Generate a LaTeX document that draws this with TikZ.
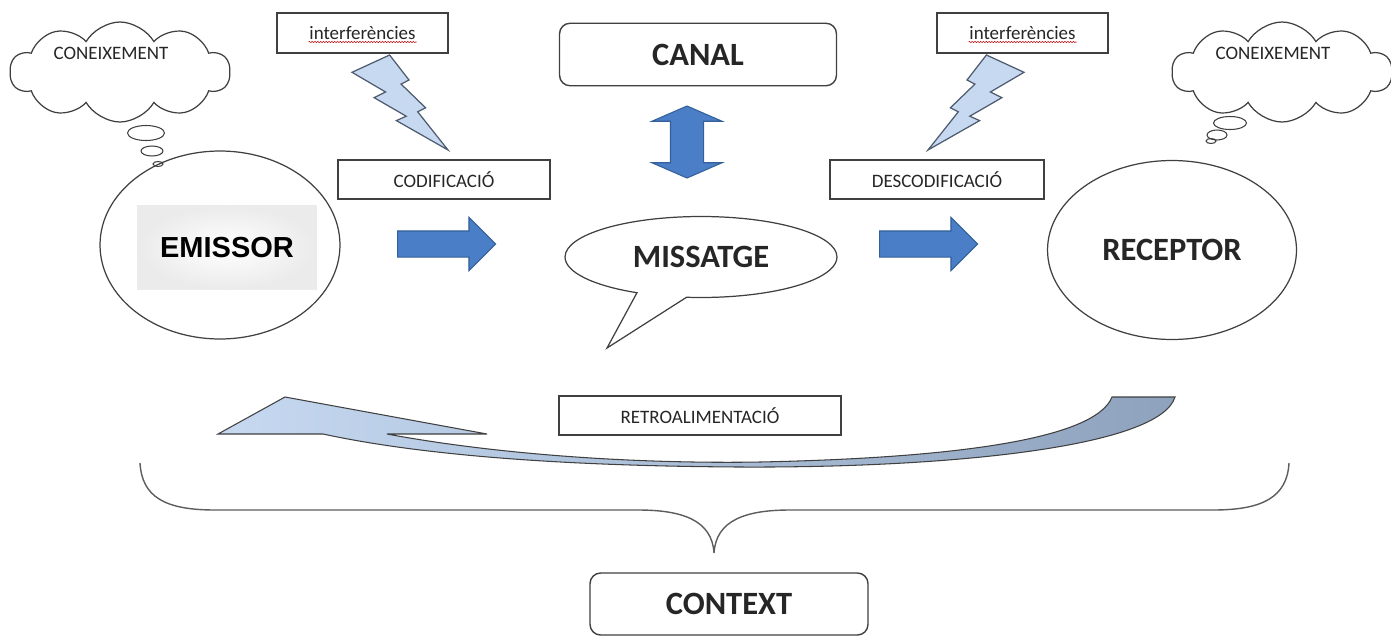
\documentclass[tikz,border=0pt]{standalone}
\usepackage{fontspec}
\setmainfont{Carlito}
\newfontfamily\arialfont{Liberation Sans}
\usetikzlibrary{arrows.meta,calc,positioning,shapes.geometric,shapes.symbols,shapes.arrows,shapes.callouts,decorations.pathmorphing}
\definecolor{ln}{HTML}{404040}
\definecolor{txt}{HTML}{262626}
\definecolor{b}{HTML}{4A7EC6}
\definecolor{B}{HTML}{34609A}
\definecolor{lb}{HTML}{C6D9F1}
\definecolor{gb}{HTML}{8EA2BD}
\definecolor{boltc}{HTML}{4E5B6E}
\newcommand{\boltpath}{(389.6,55) -- (352,72.3) -- (385.6,92) -- (374.2,97.7) -- (406.2,116.2) -- (396.4,120.6) -- (448,150) -- (417.7,111.8) -- (425.6,107.8) -- (401.1,84.1) -- (409,80) -- cycle}

\begin{document}
\begin{tikzpicture}[x=0.02cm,y=-0.02cm,
  box/.style={draw=ln,line width=0.8pt,fill=white,text=txt,inner sep=0pt,
    font=\fontsize{10.8}{13}\selectfont,minimum height=0.78cm},
  bigbox/.style={box,rounded corners=6pt,font=\fontsize{18.5}{22}\selectfont\bfseries,
    minimum height=1.25cm},
  oval/.style={ellipse,draw=ln,line width=0.7pt,inner sep=0pt,text=txt,
    font=\fontsize{18.5}{22}\selectfont\bfseries},
  thought/.style={cloud,cloud puffs=10,cloud puff arc=120,aspect=2.2,draw=ln,
    line width=0.7pt,minimum width=4.4cm,minimum height=2cm,inner sep=0pt},
  bubble/.style={ellipse,draw=ln,line width=0.6pt,inner sep=0pt},
  note/.style={text=txt,font=\fontsize{10.8}{13}\selectfont},
  fwd/.style={single arrow,single arrow head extend=0.27cm,single arrow tip angle=90,
    inner xsep=0pt,inner ysep=0.25cm,minimum height=1.96cm,fill=b,draw=B,line width=0.6pt},
  dbl/.style={double arrow,double arrow head extend=0.37cm,double arrow tip angle=133,
    inner xsep=0pt,inner ysep=0.32cm,minimum height=1.44cm,fill=b,draw=B,line width=0.6pt},
  boltstyle/.style={fill=lb,draw=boltc,line width=0.7pt},
  wave/.style={red!75!black,line width=0.3pt,decorate,
    decoration={snake,amplitude=0.35pt,segment length=1.6pt}}]
  \path[fill=white,use as bounding box] (0,0) rectangle (1391,636);

  % knowledge clouds
  \node[thought] (cloudL) at (120,72) {};
  \node[note] (knowL) at ($(cloudL.center)+(-9,-19)$) {CONEIXEMENT};
  \node[bubble,minimum width=0.74cm,minimum height=0.3cm] (bL1) at (146,133) {};
  \node[bubble,minimum width=0.44cm,minimum height=0.2cm] (bL2) at (152,151) {};
  \node[bubble,minimum width=0.2cm,minimum height=0.1cm] (bL3) at (158,164) {};
  \node[thought] (cloudR) at (1282,72) {};
  \node[note] (knowR) at ($(cloudR.center)+(-9,-19)$) {CONEIXEMENT};
  \node[bubble,minimum width=0.66cm,minimum height=0.26cm] (bR1) at (1230,123) {};
  \node[bubble,minimum width=0.4cm,minimum height=0.2cm] (bR2) at (1217,135) {};
  \node[bubble,minimum width=0.2cm,minimum height=0.1cm] (bR3) at (1211,141) {};

  % noise
  \node[box,minimum width=3.42cm,minimum height=0.8cm] (intL) at (362.5,33) {interferències};
  \node[box,minimum width=3.42cm,minimum height=0.8cm] (intR) at (1022.5,33) {interferències};
  \draw[wave] ($(intL.center)+(-54,9)$) -- ($(intL.center)+(54,9)$);
  \draw[wave] ($(intR.center)+(-54,9)$) -- ($(intR.center)+(54,9)$);
  \draw[boltstyle] \boltpath;
  \begin{scope}[shift={(1376,0)},xscale=-1]
    \draw[boltstyle] \boltpath;
  \end{scope}

  % sender, message, receiver
  \node[oval,minimum width=4.8cm,minimum height=3.76cm] (emissor) at (220,245) {};
  \node[inner color=white,outer color=black!8,minimum width=3.6cm,minimum height=1.7cm,
    font=\arialfont\fontsize{16.5}{20}\selectfont\bfseries] (emissorTxt) at (227,247.5) {EMISSOR};
  \node[box,minimum width=4.24cm] (codif) at (444,179.5) {CODIFICACIÓ};
  \node[fwd] (codArrow) at (440,244) {};
  \node[bigbox,minimum width=5.54cm] (canal) at (698,54.5) {CANAL};
  \node[dbl,rotate=90] (canalArrow) at (687,142) {};
  \node[oval,ellipse callout,callout absolute pointer={(607,348)},callout pointer arc=22,
    minimum width=5.44cm,minimum height=1.62cm] (msg) at (701,257) {MISSATGE};
  \node[box,minimum width=4.28cm] (descodif) at (937,179.5) {DESCODIFICACIÓ};
  \node[fwd] (descArrow) at (922,244) {};
  \node[oval,minimum width=4.98cm,minimum height=3.58cm] (receptor) at (1172,250) {RECEPTOR};

  % feedback
  \node[box,minimum width=5.64cm] (retro) at (700,415.5) {RETROALIMENTACIÓ};
  \draw[draw=ln,line width=0.6pt,left color=lb,right color=gb]
    (218,434) -- (285,397) -- (487,434) -- (387,434)
    .. controls (500,455) and (640,464) .. (760,462)
    .. controls (950,458) and (1095,440) .. (1112,397) -- (1175,397)
    .. controls (1160,447) and (950,468) .. (740,467)
    .. controls (560,466) and (420,455) .. (323,434) -- cycle;

  % context
  \draw[ln!85,line width=0.8pt] (140,463) .. controls (142,497) and (165,510) .. (215,510)
    -- (638,510) .. controls (682,510) and (712,520) .. (714,553)
    .. controls (716,520) and (746,510) .. (790,510) -- (1213,510)
    .. controls (1263,510) and (1287,497) .. (1289,463);
  \node[bigbox,minimum width=5.56cm,minimum height=1.24cm] (context) at (729,604) {CONTEXT};
\end{tikzpicture}
\end{document}
